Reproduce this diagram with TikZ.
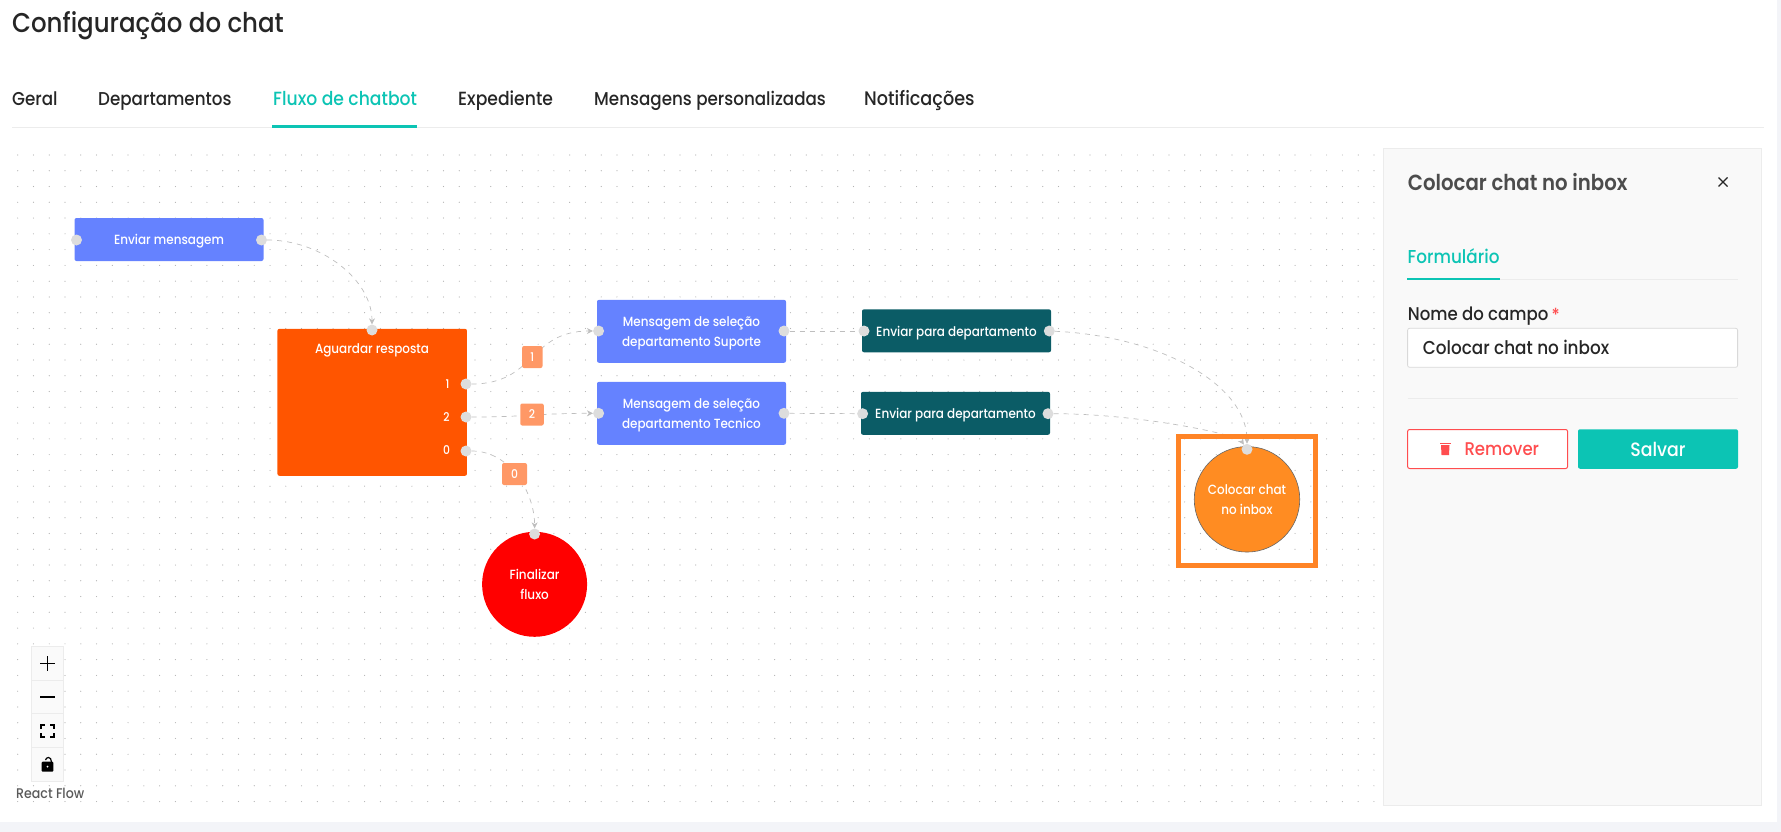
\documentclass[tikz,border=0pt]{standalone}
\usepackage{fontspec}
\setmainfont[FakeStretch=0.9,UprightFont=* Medium,BoldFont=* SemiBold]{Poppins}
\usepackage{tikz}
\usetikzlibrary{arrows.meta}
\usetikzlibrary{backgrounds}
\definecolor{tealc}{HTML}{0CC4B4}
\definecolor{bluebox}{HTML}{6582FF}
\definecolor{darkbox}{HTML}{0B5C66}
\definecolor{waitbox}{HTML}{FF5500}
\definecolor{chipc}{HTML}{FF9866}
\definecolor{framec}{HTML}{FF8426}
\definecolor{inboxc}{HTML}{FF8C22}
\definecolor{redc}{HTML}{FF4D4F}
\definecolor{hndc}{HTML}{DDDDDD}
\definecolor{wirec}{HTML}{BEBEBE}
\definecolor{linec}{HTML}{ECECEC}
\definecolor{inkc}{HTML}{262626}
\definecolor{pagec}{HTML}{F3F4F8}
\newcommand{\lowr}{\rule{0pt}{14pt}}
\tikzset{
  flowbox/.style={rectangle,rounded corners=2pt,text=white,inner sep=0pt,align=center,font=\fontsize{13.3}{20}\selectfont},
  msgbox/.style={flowbox,fill=bluebox,minimum width=189pt},
  deptbox/.style={flowbox,fill=darkbox,minimum width=189pt,minimum height=43pt},
  hnd/.style={circle,fill=hndc,minimum size=11pt,inner sep=0pt},
  chip/.style={rectangle,rounded corners=2pt,fill=chipc,text=white,inner sep=0pt,minimum height=22pt,font=\fontsize{12}{12}\selectfont},
  wire/.style={draw=wirec,line width=0.7pt,dash pattern=on 5pt off 5pt,-{Stealth[length=6pt,width=6pt]}},
  tab/.style={anchor=base west,inner sep=0pt,text=inkc,font=\fontsize{18.6}{18.6}\selectfont},
  paneltxt/.style={anchor=base west,inner sep=0pt,text=inkc,font=\fontsize{18.7}{18.7}\selectfont},
  ctrlbtn/.style={rectangle,fill=white!98!black,draw=linec,line width=0.8pt,minimum width=32pt,minimum height=33.7pt,inner sep=0pt},
}
\begin{document}
\begin{tikzpicture}[x=1pt,y=-1pt]
\useasboundingbox (0,0) rectangle (1781,832);
\fill[pagec] (0,822) rectangle (1781,832);
\fill[pagec] (1777,0) rectangle (1781,832);
\begin{scope}[on background layer]
\foreach \i in {0,...,86} {
\foreach \j in {0,...,41} {
\fill[black!30] ({17.7+\i*15.77},{155+\j*15.77}) circle (0.6pt);
}
}
\end{scope}
% header
\node[anchor=base west,inner sep=0pt,text=inkc,font=\fontsize{27.2}{27.2}\selectfont] (title) at (12,33) {Configuração do chat};
\node[tab] (tabgeral) at (12,106) {Geral};
\node[tab] (tabdep) at (98,106) {Departamentos};
\node[tab,text=tealc,font=\fontsize{19.1}{19.1}\selectfont] (tabfluxo) at (273,106) {Fluxo de chatbot};
\node[tab,font=\fontsize{19.1}{19.1}\selectfont] (tabexp) at (458,106) {Expediente};
\node[tab] (tabmsg) at (594,106) {Mensagens personalizadas};
\node[tab,font=\fontsize{19.6}{19.6}\selectfont] (tabnot) at (864,106) {Notificações};
\draw[linec,line width=1pt] (12,127.5) -- (1764,127.5);
\fill[tealc] (272,125) rectangle (417,128);
% nodes
\node[msgbox,minimum height=43pt] (send) at (169,239.5) {\lowr Enviar mensagem};
\node[hnd] (sendin) at (76.5,240) {};
\node[hnd] (sendout) at (261.5,240) {};
\node[flowbox,fill=waitbox,minimum width=189.5pt,minimum height=147pt] (wait) at (372.2,402.3) {};
\node[inner sep=0pt,text=white,font=\fontsize{13.3}{13.3}\selectfont] (waitname) at (372,350) {Aguardar resposta};
\node[hnd] (waitin) at (372,330) {};
\node[hnd] (waitone) at (466,384) {};
\node[hnd] (waittwo) at (466,417) {};
\node[hnd] (waitzero) at (466,451) {};
\node[inner sep=0pt,text=white,font=\fontsize{12}{12}\selectfont] (labone) at (447.5,384) {1};
\node[inner sep=0pt,text=white,font=\fontsize{12}{12}\selectfont] (labtwo) at (446.5,417) {2};
\node[inner sep=0pt,text=white,font=\fontsize{12}{12}\selectfont] (labzero) at (446.5,450) {0};
\node[msgbox,minimum height=63pt] (msgsup) at (691.5,331.3) {\lowr Mensagem de seleção\\departamento Suporte};
\node[hnd] (msgsupin) at (598.6,331) {};
\node[hnd] (msgsupout) at (784,331) {};
\node[msgbox,minimum height=63pt] (msgtec) at (691.5,413.3) {\lowr Mensagem de seleção\\departamento Tecnico};
\node[hnd] (msgtecin) at (598.6,413.3) {};
\node[hnd] (msgtecout) at (784,413.3) {};
\node[deptbox] (deptsup) at (956.5,330.8) {\lowr Enviar para departamento};
\node[hnd] (deptsupin) at (864,331) {};
\node[hnd] (deptsupout) at (1049.3,331) {};
\node[deptbox] (depttec) at (955.5,413.3) {\lowr Enviar para departamento};
\node[hnd] (depttecin) at (862.6,413.7) {};
\node[hnd] (depttecout) at (1048,413.7) {};
\node[circle,fill=red,minimum size=105pt,inner sep=0pt,text=white,align=center,font=\fontsize{13.3}{20}\selectfont] (finish) at (534.6,584.3) {Finalizar\\fluxo};
\node[hnd] (finishin) at (534.6,534) {};
\node[rectangle,draw=framec,line width=4.5pt,minimum width=137pt,minimum height=129pt,inner sep=0pt] (frame) at (1246.8,500.8) {};
\node[circle,fill=inboxc,draw=black!60,line width=0.6pt,minimum size=105.5pt,inner sep=0pt,text=white,align=center,font=\fontsize{13.3}{20}\selectfont] (inbox) at (1247,499.3) {Colocar chat\\no inbox};
\node[hnd] (inboxin) at (1247,449.3) {};
\node[chip,minimum width=20.5pt] (chipone) at (532.3,357) {1};
\node[chip,minimum width=23.5pt] (chiptwo) at (532,414.5) {2};
\node[chip,minimum width=25pt] (chipzero) at (514.5,474) {0};
% edges
\begin{scope}[on background layer]
\draw[wire] (sendout) .. controls +(60,0) and +(0,-50) .. (waitin);
\draw[wire] (waitone) .. controls +(70,0) and +(-70,0) .. (msgsupin);
\draw[wire] (waittwo) .. controls +(60,0) and +(-60,0) .. (msgtecin);
\draw[wire] (waitzero) .. controls +(45,0) and +(0,-40) .. (finishin);
\draw[wire,-] (msgsupout) -- (deptsupin);
\draw[wire,-] (msgtecout) -- (depttecin);
\draw[wire] (deptsupout) .. controls +(110,5) and +(0,-65) .. (inboxin);
\draw[wire] (depttecout) .. controls +(90,0) and +(-10,-15) .. (inboxin);
\end{scope}
% side panel
\node[rectangle,fill=white!97.5!black,draw=linec,line width=0.8pt,minimum width=378.7pt,minimum height=657.5pt,inner sep=0pt] (panel) at (1572.4,476.8) {};
\node[paneltxt,text=black!70,font=\fontsize{21.9}{21.9}\selectfont\bfseries] (paneltitle) at (1407.7,190) {Colocar chat no inbox};
\draw[inkc,line width=1.1pt] (1718.5,177.5) -- (1727.5,186.5) (1727.5,177.5) -- (1718.5,186.5);
\node[paneltxt,text=tealc] (formtab) at (1407.5,263) {Formulário};
\draw[linec,line width=1pt] (1407.5,279.5) -- (1737.7,279.5);
\fill[tealc] (1407,278) rectangle (1500,280);
\node[paneltxt,font=\fontsize{18.4}{18.4}\selectfont] (fieldname) at (1407.7,320.7) {Nome do campo};
\node[inner sep=0pt,text=redc,font=\fontsize{18}{18}\selectfont] (fieldstar) at (1555.7,315) {*};
\node[rectangle,rounded corners=2pt,fill=white,draw=black!15,line width=0.8pt,minimum width=330pt,minimum height=39pt,inner sep=0pt] (fieldbox) at (1572.6,347.8) {};
\node[paneltxt] (fieldtxt) at (1422.7,354) {Colocar chat no inbox};
\draw[linec,line width=1pt] (1407.5,398.3) -- (1737.7,398.3);
\node[rectangle,rounded corners=2pt,fill=white,draw=redc,line width=1pt,minimum width=160pt,minimum height=39pt,inner sep=0pt] (removebtn) at (1487.6,449) {};
\fill[redc] (1441,445) -- (1449.5,445) -- (1449,455) -- (1441.5,455) -- cycle;
\fill[redc] (1440,442.5) rectangle (1450.5,444.2);
\node[paneltxt,text=redc,font=\fontsize{18.4}{18.4}\selectfont] (removetxt) at (1464.3,455) {Remover};
\node[rectangle,rounded corners=2pt,fill=tealc,minimum width=160pt,minimum height=39.5pt,inner sep=0pt,text=white,font=\fontsize{19.3}{19.3}\selectfont] (savebtn) at (1658,449) {Salvar};
% zoom controls
\node[ctrlbtn] (ctrlplus) at (47.5,663.5) {};
\node[ctrlbtn] (ctrlminus) at (47.5,697) {};
\node[ctrlbtn] (ctrlfit) at (47.5,730.5) {};
\node[ctrlbtn] (ctrllock) at (47.5,764.5) {};
\draw[black,line width=1.5pt] (40,663.5) -- (55,663.5) (47.5,656) -- (47.5,671);
\draw[black,line width=1.5pt] (40,697) -- (55,697);
\draw[black,line width=1.5pt] (41,729) -- (41,725) -- (45,725) (50,725) -- (54,725) -- (54,729) (54,733) -- (54,737) -- (50,737) (45,737) -- (41,737) -- (41,733);
\fill[black,rounded corners=1pt] (41.7,761.7) rectangle (53.3,771.7);
\draw[black,line width=1.2pt] (51.5,762) .. controls (51.5,759) and (50,757.5) .. (48.5,757.5) .. controls (47,757.5) and (46,758.5) .. (45.5,760);
\fill[white] (47.5,766.7) circle (1pt);
\node[anchor=base west,inner sep=0pt,text=black!65,font=\fontsize{14}{14}\selectfont] (rflabel) at (16,798) {React Flow};
\end{tikzpicture}
\end{document}
